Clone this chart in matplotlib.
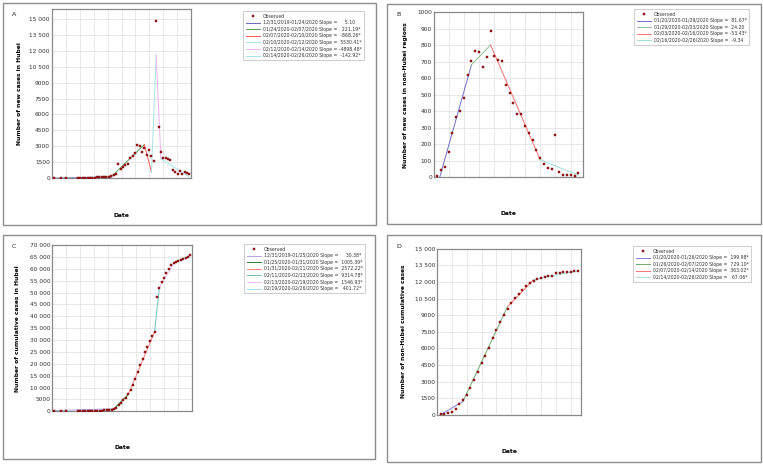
import matplotlib
matplotlib.use("Agg")
import matplotlib.pyplot as plt
from matplotlib.patches import Rectangle
from matplotlib.ticker import FuncFormatter

plt.rcParams['font.family'] = ['DejaVu Sans']

# days counted from 12/31/2019
hubei_days = [0, 3, 5, 10, 11, 12, 13, 14, 15, 16, 17, 18, 19, 20, 21, 22, 23, 24, 25, 26,
              27, 28, 29, 30, 31, 32, 33, 34, 35, 36, 37, 38, 39, 40, 41, 42, 43, 44, 45,
              46, 47, 48, 49, 50, 51, 52, 53, 54, 55, 56, 57]
hubei_new = [27, 17, 15, 0, 0, 0, 0, 0, 0, 4, 17, 59, 77, 72, 105, 69, 105, 180, 323, 371,
             1291, 840, 1032, 1220, 1347, 1921, 2103, 2345, 3156, 2987, 2447, 2841, 2147, 2618,
             2097, 1638, 14840, 4823, 2420, 1843, 1933, 1807, 1693, 770, 610, 360, 620, 420,
             520, 430, 420]
hubei_cum = [27, 44, 59, 41, 41, 41, 41, 41, 41, 45, 62, 121, 198, 270, 375, 444, 549, 729,
             1052, 1423, 2714, 3554, 4586, 5806, 7153, 9074, 11177, 13522, 16678, 19665, 22112,
             24953, 27100, 29631, 31728, 33366, 48206, 51986, 54406, 56249, 58182, 59989, 61682,
             62300, 62900, 63300, 63750, 64050, 64350, 64900, 65600]

other_days = [20, 21, 22, 23, 24, 25, 26, 27, 28, 29, 30, 31, 32, 33, 34, 35, 36, 37, 38,
              39, 40, 41, 42, 43, 44, 45, 46, 47, 48, 49, 50, 51, 52, 53, 54, 55, 56, 57]
other_new = [5, 42, 62, 155, 268, 362, 402, 481, 618, 704, 763, 755, 668, 726, 887, 734, 708,
             702, 557, 507, 451, 384, 384, 312, 268, 223, 163, 115, 80, 56, 48, 258, 30, 14, 14,
             14, 6, 28]
other_cum = [21, 65, 127, 281, 558, 923, 1321, 1801, 2420, 3125, 3886, 4638, 5306, 6028, 6916,
             7646, 8353, 9049, 9593, 10098, 10540, 10910, 11287, 11598, 11865, 12086, 12251,
             12366, 12447, 12503, 12545, 12810, 12840, 12870, 12900, 12930, 12960, 12990]

# joinpoint segments
join_days_a = [0, 24, 38, 41, 43, 45, 57]
join_vals_a = [-20, 102, 3159, 554, 11615, 1818, 103]
slopes_a = [("12/31/2019-01/24/2020", "    5.10"), ("01/24/2020-02/07/2020", "  221.19*"),
            ("02/07/2020-02/10/2020", " -868.26*"), ("02/10/2020-02/12/2020", " 5530.41*"),
            ("02/12/2020-02/14/2020", "-4898.48*"), ("02/14/2020-02/26/2020", " -142.92*")]
colors_a = ['#6a6ab8', '#5f9e5f', '#ff5a5a', '#a6e3e3', '#f0b0f0', '#a8e4f0']

join_days_b = [20, 29, 34, 47, 57]
join_vals_b = [-57, 680, 801, 106, 13]
slopes_b = [("01/20/2020-01/29/2020", " 81.67*"), ("01/29/2020-02/03/2020", " 24.20"),
            ("02/03/2020-02/16/2020", "-53.43*"), ("02/16/2020-02/26/2020", " -9.34")]
colors_b = ['#7070c8', '#8fbf8f', '#ff7070', '#a0dede']

join_days_c = [0, 25, 31, 42, 44, 50, 57]
join_vals_c = [300, 1060, 7100, 33400, 52000, 62200, 65600]
slopes_c = [("12/31/2019-01/25/2020", "    30.38*"), ("01/25/2020-01/31/2020", " 1005.39*"),
            ("01/31/2020-02/11/2020", " 2572.22*"), ("02/11/2020-02/13/2020", " 9314.78*"),
            ("02/13/2020-02/19/2020", " 1546.93*"), ("02/19/2020-02/26/2020", "  401.72*")]
colors_c = ['#b0a8e0', '#2e7d32', '#ff8080', '#70c0c0', '#f0c0f0', '#a8dcf0']

join_days_d = [20, 26, 38, 45, 57]
join_vals_d = [0, 1200, 9750, 12200, 13000]
slopes_d = [("01/20/2020-01/26/2020", " 199.98*"), ("01/26/2020-02/07/2020", " 729.10*"),
            ("02/07/2020-02/14/2020", " 363.02*"), ("02/14/2020-02/26/2020", "  67.06*")]
colors_d = ['#8080d8', '#70a870', '#ff7070', '#a8e0e0']

W, H = 763, 465


def fmt(v, pos):
    v = int(round(v))
    if v >= 10000:
        return "{:,}".format(v).replace(",", " ")
    return str(v)


def panel(rect, xlim, ylim, ystep, grid_x, days, vals, jd, jv, slopes, colors,
          ylabel, letter, box, leg_xy, ylab_x):
    l, t, r, b = rect
    ax = fig.add_axes([l / W, 1 - b / H, (r - l) / W, (b - t) / H])
    ax.set_xlim(*xlim)
    ax.set_ylim(*ylim)
    ax.set_yticks(list(range(0, int(ylim[1]) + 1, ystep)))
    ax.yaxis.set_major_formatter(FuncFormatter(fmt))
    ax.set_xticks(grid_x)
    ax.set_xticklabels([])
    ax.tick_params(length=0, labelsize=4.2, pad=1.5, labelcolor='#333333')
    ax.grid(True, color='#e4e4e4', lw=0.6)
    ax.set_axisbelow(True)
    for s in ax.spines.values():
        s.set_color('#888888')
        s.set_linewidth(0.9)

    obs, = ax.plot(days, vals, 's', ms=2.1, color='#a01818', mec='#7a1010', mew=0.3,
                   label="Observed", zorder=3)
    handles = [obs]
    for i in range(len(slopes)):
        ln, = ax.plot(jd[i:i + 2], jv[i:i + 2], color=colors[i], lw=0.7, zorder=2,
                      label="{} Slope = {}".format(*slopes[i]))
        handles.append(ln)

    ax.set_xlabel("Date", fontsize=4.3, fontweight='bold')
    ax.xaxis.set_label_coords(0.5, -0.205)
    ax.set_ylabel(ylabel, fontsize=4.3, fontweight='bold')
    ax.yaxis.set_label_coords(ylab_x, 0.5)

    leg = ax.legend(handles=handles, loc='upper left', bbox_to_anchor=(leg_xy[0] / W, 1 - leg_xy[1] / H),
                    bbox_transform=fig.transFigure, fontsize=3.3, frameon=True, fancybox=False,
                    edgecolor='#aaaaaa', handlelength=3.2, labelspacing=0.35, borderpad=0.5,
                    handletextpad=0.6, markerscale=0.9)
    leg.get_frame().set_linewidth(0.5)
    for txt in leg.get_texts():
        txt.set_color('#333333')

    bl, bt, br, bb = box
    fig.add_artist(Rectangle((bl / W, 1 - bb / H), (br - bl) / W, (bb - bt) / H,
                             transform=fig.transFigure, fill=False, edgecolor='#8c8c8c', lw=1.0))
    fig.text((bl + 9) / W, 1 - (bt + 11) / H, letter, fontsize=4.5, va='center', color='#222222')
    return ax


fig = plt.figure(figsize=(W / 100, H / 100), dpi=100)

xa = (-1.0, 57.7)
panel((52, 9, 191, 178), xa, (0, 15950), 1500,
      [xa[0] + (xa[1] - xa[0]) * k / 10 for k in range(1, 10)],
      hubei_days, hubei_new, join_days_a, join_vals_a, slopes_a, colors_a,
      "Number of new cases in Hubei", "A", (3, 3, 376, 225), (241, 9), -0.216)

xb = (19.2, 58.2)
panel((434, 12, 583, 177.3), xb, (0, 1000), 100, [23, 27, 31, 35, 39, 43, 47, 51, 55],
      other_days, other_new, join_days_b, join_vals_b, slopes_b, colors_b,
      "Number of new cases in non-Hubei regions", "B", (387, 4, 761, 224), (632, 7), -0.174)

xc = (-0.8, 57.8)
panel((52.3, 245, 192.3, 411.3), xc, (0, 70000), 5000,
      [xc[0] + (xc[1] - xc[0]) * k / 10 for k in range(1, 10)],
      hubei_days, hubei_cum, join_days_c, join_vals_c, slopes_c, colors_c,
      "Number of cumulative cases in Hubei", "C", (3, 235, 375, 459), (242, 242), -0.231)

xd = (19.1, 57.7)
panel((437.3, 248.7, 580.7, 414.7), xd, (0, 15000), 1500, [23, 27, 31, 35, 39, 43, 47, 51, 55],
      other_days, other_cum, join_days_d, join_vals_d, slopes_d, colors_d,
      "Number of non-Hubei cumulative cases", "D", (387, 235, 761, 462), (631, 244), -0.218)

fig.savefig("out.png", dpi=100, facecolor='white')
